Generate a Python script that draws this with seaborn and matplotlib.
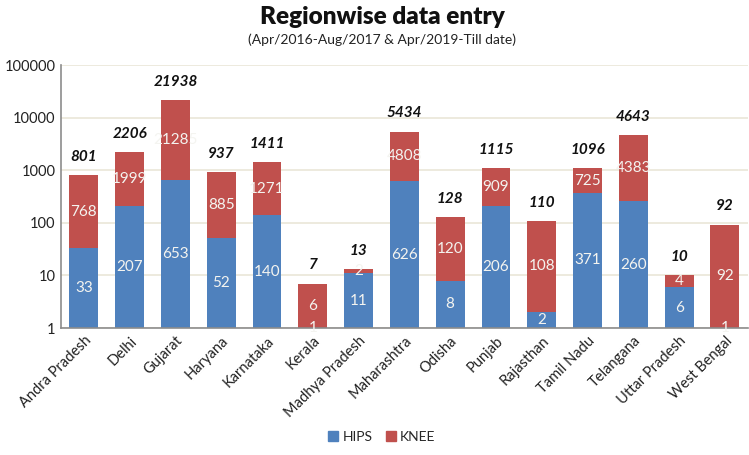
import matplotlib
matplotlib.use("Agg")
import matplotlib.pyplot as plt
import seaborn as sns
import numpy as np
import pandas as pd
from matplotlib.patches import Patch

states = ["Andra Pradesh", "Delhi", "Gujarat", "Haryana", "Karnataka", "Kerala",
          "Madhya Pradesh", "Maharashtra", "Odisha", "Punjab", "Rajasthan",
          "Tamil Nadu", "Telangana", "Uttar Pradesh", "West Bengal"]
hips = [33, 207, 653, 52, 140, 1, 11, 626, 8, 206, 2, 371, 260, 6, 1]
knee = [768, 1999, 21285, 885, 1271, 6, 2, 4808, 120, 909, 108, 725, 4383, 4, 92]
totals = [801, 2206, 21938, 937, 1411, 7, 13, 5434, 128, 1115, 110, 1096, 4643, 10, 92]

BLUE = "#4F81BD"
RED = "#C0504D"

sns.set_theme(style="white")
plt.rcParams["font.family"] = ["Lato", "DejaVu Sans"]

df = pd.DataFrame({"state": states, "hips": hips, "knee": knee})
df["stack"] = df["hips"] + df["knee"]

fig = plt.figure(figsize=(7.49, 4.55), dpi=100)
ax = fig.add_axes([0.0814, 0.279, 0.917, 0.578])
ax.set_yscale("log")

sns.barplot(data=df, x="state", y="stack", color=RED, saturation=1, width=0.63,
            ax=ax, linewidth=0)
sns.barplot(data=df, x="state", y="hips", color=BLUE, saturation=1, width=0.63,
            ax=ax, linewidth=0)

ax.set_ylim(1, 100000)
ax.set_xlim(-0.5, len(states) - 0.5)
ax.set_yticks([1, 10, 100, 1000, 10000, 100000])
ax.set_yticklabels(["1", "10", "100", "1000", "10000", "100000"], fontsize=10.5, color="#222222")
ax.minorticks_off()
ax.yaxis.grid(True, color="#EAE6D8", linewidth=1.2)
ax.set_axisbelow(True)
ax.set_xlabel("")
ax.set_ylabel("")
ax.tick_params(axis="both", length=0, pad=4)
for s in ["top", "right"]:
    ax.spines[s].set_visible(False)
ax.spines["left"].set_color("#8C8C8C")
ax.spines["bottom"].set_color("#8C8C8C")
ax.spines["left"].set_linewidth(1.2)
ax.spines["bottom"].set_linewidth(1.2)

ax.set_xticks(range(len(states)))
ax.set_xticklabels(states, rotation=45, ha="right", rotation_mode="anchor",
                   fontsize=10.5, color="#222222")

for i, (h, k, t) in enumerate(zip(hips, knee, totals)):
    ax.text(i, np.sqrt(h), str(h), ha="center", va="center", color="#F4F4F0", fontsize=11)
    ax.text(i, np.sqrt(h * (h + k)), str(k), ha="center", va="center", color="#F4F4F0", fontsize=11)
    ax.annotate(str(t), (i, h + k), xytext=(0, 8), textcoords="offset points",
                ha="center", va="bottom", fontsize=11, fontweight="bold",
                fontstyle="italic", color="#111111")

fig.text(0.51, 0.962, "Regionwise data entry", ha="center", va="center",
         fontsize=17.5, fontweight="heavy", color="#111111")
fig.text(0.51, 0.912, "(Apr/2016-Aug/2017 & Apr/2019-Till date)", ha="center", va="center",
         fontsize=10, color="#222222")

handles = [Patch(color=BLUE, label="HIPS"), Patch(color=RED, label="KNEE")]
fig.legend(handles=handles, loc="center", bbox_to_anchor=(0.51, 0.04), ncol=2,
           frameon=False, fontsize=10, handlelength=0.7, handleheight=0.7,
           handletextpad=0.3, columnspacing=1.0)

fig.savefig("out.png", dpi=100)
